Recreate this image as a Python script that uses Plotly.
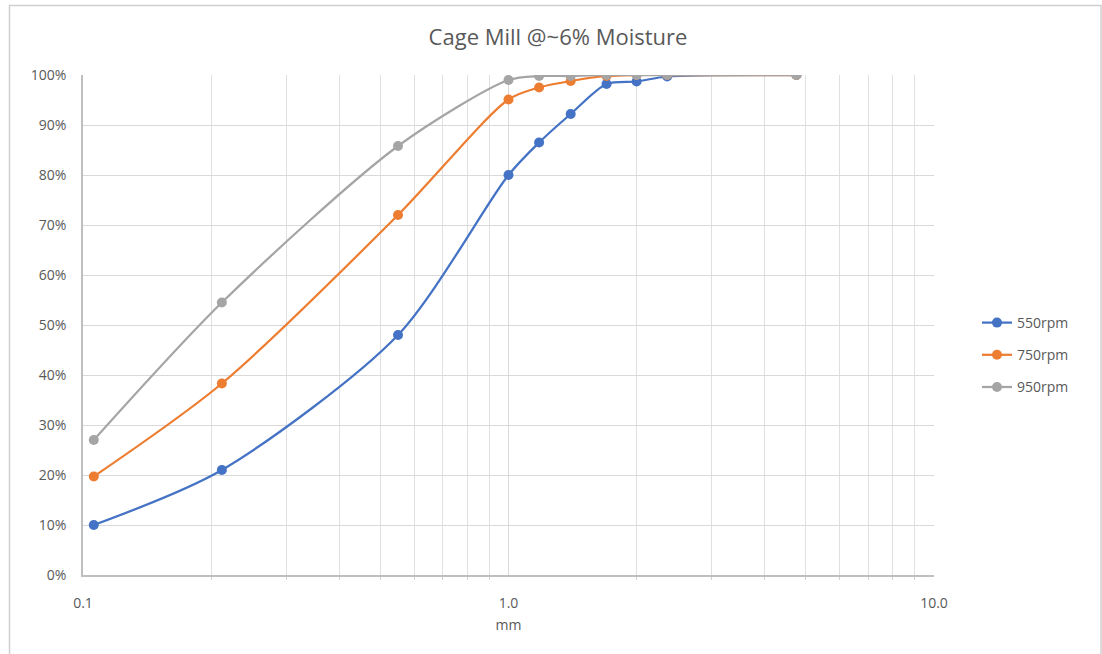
import plotly.graph_objects as go

sizes_mm = [0.106, 0.212, 0.55, 1.0, 1.18, 1.4, 1.7, 2.0, 2.36, 4.75]
rpm550 = [10.0, 21.0, 48.0, 80.0, 86.5, 92.2, 98.2, 98.7, 99.7, 100.0]
rpm750 = [19.7, 38.3, 72.0, 95.1, 97.5, 98.8, 99.8, 100.0, 100.0, 100.0]
rpm950 = [27.0, 54.5, 85.8, 99.0, 99.8, 99.8, 100.0, 100.0, 100.0, 100.0]
series_names = ["550rpm", "750rpm", "950rpm"]
colors = ["#4472C4", "#ED7D31", "#A5A5A5"]

fig = go.Figure()
for i, (name, vals, col) in enumerate(zip(series_names, [rpm550, rpm750, rpm950], colors)):
    fig.add_trace(go.Scatter(
        x=sizes_mm, y=[v / 100 for v in vals], name=name, mode="lines+markers",
        line=dict(color=col, width=2.25, shape="spline", smoothing=0.8),
        marker=dict(color=col, size=10),
        legendgroup=f"g{i}",
    ))

font_fam = "Open Sans, Noto Sans, sans-serif"
fig.update_layout(
    width=1102, height=654,
    margin=dict(l=83, r=168, t=75, b=79, autoexpand=False),
    paper_bgcolor="white", plot_bgcolor="white",
    title=dict(text="Cage Mill @~6% Moisture", x=558 / 1102, xanchor="center", xref="container",
               y=1 - 37 / 654, yanchor="middle",
               font=dict(family=font_fam, size=22, color="#595959")),
    font=dict(family=font_fam, size=13, color="#595959"),
    showlegend=True,
    legend=dict(x=(977 - 83) / 851, xanchor="left", y=(575 - 355) / 500, yanchor="middle",
                font=dict(size=14, color="#595959"), tracegroupgap=11,
                bgcolor="rgba(0,0,0,0)"),
    xaxis=dict(type="log", range=[-1, 1], showline=True, linecolor="#BFBFBF", linewidth=1.5,
               tickvals=[0.1, 1, 10], ticktext=["0.1", "1.0", "10.0"],
               showgrid=True, gridcolor="#D9D9D9", gridwidth=1,
               ticks="", ticklabelstandoff=14,
               minor=dict(tickvals=[0.2, 0.3, 0.4, 0.5, 0.6, 0.7, 0.8, 0.9,
                                    2, 3, 4, 5, 6, 7, 8, 9],
                          showgrid=True, gridcolor="#E0E0E0", gridwidth=1,
                          ticks="outside", ticklen=3, tickcolor="#D0D0D0"),
               title=dict(text="mm", font=dict(size=14, color="#595959"), standoff=10),
               tickfont=dict(size=14, color="#595959"), zeroline=False, mirror=False),
    yaxis=dict(range=[0, 1], tickformat=".0%", dtick=0.1, showline=True, linecolor="#BFBFBF",
               linewidth=1.5, showgrid=True, gridcolor="#D9D9D9", gridwidth=1.2,
               tickfont=dict(size=14, color="#595959"), zeroline=False, ticks="",
               ticklabelstandoff=12),
)
# outer chart frame
fig.add_shape(type="rect", xref="paper", yref="paper",
              x0=(9.5 - 83) / 851, x1=(1101 - 83) / 851,
              y0=(575 - 660) / 500, y1=(575 - 5.5) / 500,
              line=dict(color="#D0D0D0", width=1.5), fillcolor="rgba(0,0,0,0)", layer="below")

fig.write_html("out.html")
